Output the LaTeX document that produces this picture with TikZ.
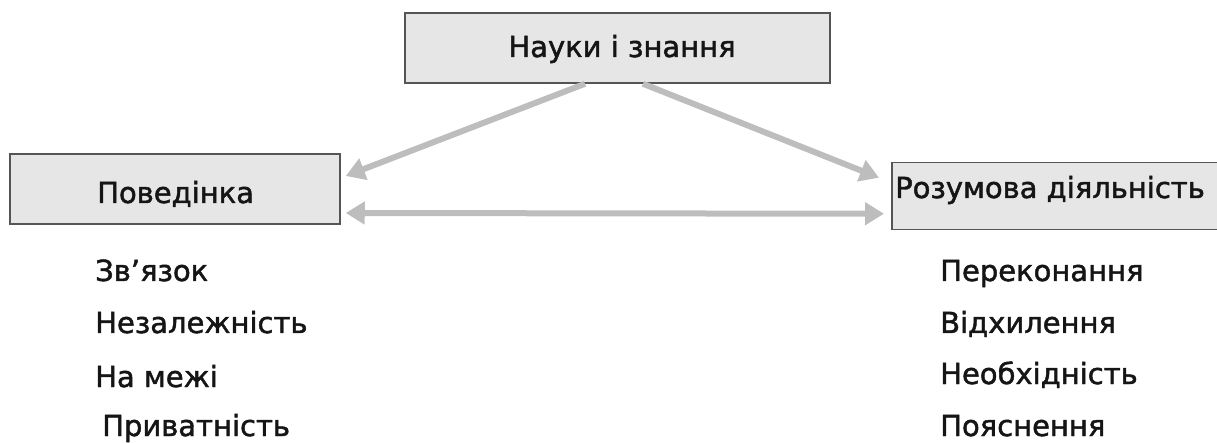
\documentclass[tikz,border=0pt]{standalone}
\usepackage{fontspec}
\newfontfamily\lblfont{DejaVu Sans}[BoldFont=DejaVu Sans,BoldFeatures={FakeBold=1.6}]
\usetikzlibrary{arrows.meta}
\definecolor{boxfill}{HTML}{E6E6E6}
\definecolor{boxline}{HTML}{555555}
\definecolor{arrgray}{HTML}{BDBDBD}
\definecolor{ink}{HTML}{151515}
\begin{document}
\begin{tikzpicture}[x=1pt,y=-1pt,
  box/.style={draw=boxline,line width=1.5pt,fill=boxfill,inner sep=0pt},
  lbl/.style={inner sep=0pt,text=ink,font=\lblfont\bfseries\fontsize{29}{33}\selectfont},
  arr/.style={draw=arrgray,line width=6pt,-{Triangle[length=19pt,width=22pt]}},
  darr/.style={draw=arrgray,line width=6pt,{Triangle[length=19pt,width=22pt]}-{Triangle[length=19pt,width=22pt]}}]
\useasboundingbox (0,0) rectangle (1217,443);
% boxes
\node[box,minimum width=425pt,minimum height=70pt] (top) at (617.5,48) {};
\node[box,minimum width=330pt,minimum height=70pt] (beh) at (175,189) {};
\node[box,minimum width=340pt,minimum height=67pt,anchor=north west] (mind) at (891,162) {};
% box labels
\node[lbl,anchor=base] (topT) at (622,57) {Науки і знання};
\node[lbl,anchor=base west] (behT) at (97,203) {Поведінка};
\node[lbl,anchor=base west] (mindT) at (895,198) {Розумова діяльність};
% arrows
\draw[arr] ([xshift=-32.5pt]top.south) -- ([xshift=5pt,yshift=13pt]beh.east);
\draw[arr] ([xshift=25.5pt]top.south) -- ([xshift=-12pt,yshift=18.5pt]mind.west);
\draw[darr] ([xshift=5pt,yshift=-24pt]beh.east) -- ([xshift=-7pt,yshift=-17.5pt]mind.west);
% lists
\node[lbl,anchor=base west] (l1) at (95,281) {Зв’язок};
\node[lbl,anchor=base west] (l2) at (95,333) {Незалежність};
\node[lbl,anchor=base west] (l3) at (95,387) {На межі};
\node[lbl,anchor=base west] (l4) at (102,436) {Приватність};
\node[lbl,anchor=base west] (r1) at (940,281) {Переконання};
\node[lbl,anchor=base west] (r2) at (940,333) {Відхилення};
\node[lbl,anchor=base west] (r3) at (940,384) {Необхідність};
\node[lbl,anchor=base west] (r4) at (940,436) {Пояснення};
\end{tikzpicture}
\end{document}
